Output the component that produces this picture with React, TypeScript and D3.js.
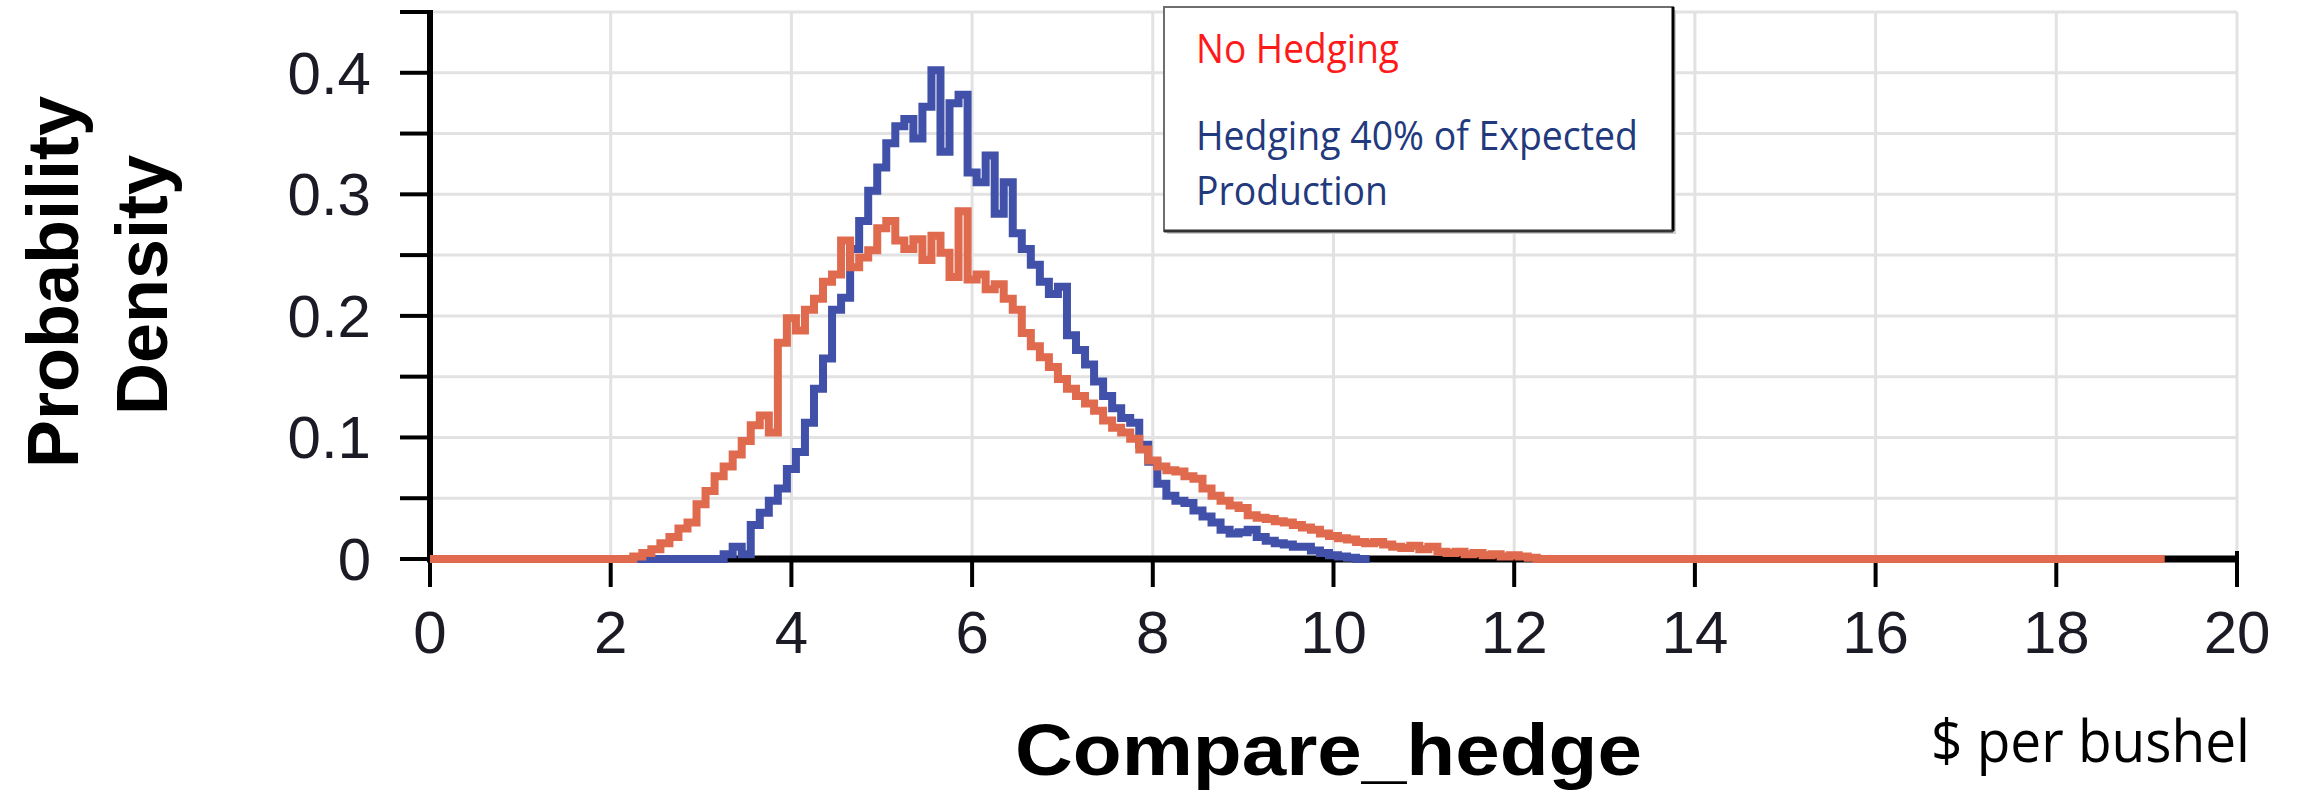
import React from "react";
import * as d3 from "d3";

// Price axis (dollars per bushel) and density axis ticks
const xTicks = [0, 2, 4, 6, 8, 10, 12, 14, 16, 18, 20];
const yLabelTicks = [0, 0.1, 0.2, 0.3, 0.4];
const yGridTicks = [0.05, 0.1, 0.15, 0.2, 0.25, 0.3, 0.35, 0.4, 0.45];
const yTickMarks = [0, 0.05, 0.1, 0.15, 0.2, 0.25, 0.3, 0.35, 0.4, 0.45];

// Density estimates on a 0.1 $/bu grid starting at 2.2
const binStart = 2.2;
const binWidth = 0.1;

const noHedging = [
  0.0, 0.002, 0.005, 0.008, 0.013, 0.018, 0.025, 0.03, 0.045, 0.056,
  0.068, 0.076, 0.086, 0.097, 0.11, 0.118, 0.104, 0.178, 0.198, 0.188,
  0.205, 0.214, 0.228, 0.234, 0.262, 0.24, 0.248, 0.254, 0.272, 0.278,
  0.262, 0.255, 0.263, 0.246, 0.266, 0.252, 0.232, 0.286, 0.23, 0.234,
  0.222, 0.226, 0.214, 0.205, 0.186, 0.175, 0.166, 0.158, 0.148, 0.14,
  0.134, 0.128, 0.122, 0.114, 0.108, 0.104, 0.099, 0.09, 0.081, 0.076,
  0.073, 0.072, 0.068, 0.066, 0.058, 0.052, 0.048, 0.044, 0.042, 0.036,
  0.034, 0.033, 0.031, 0.03, 0.028, 0.026, 0.024, 0.021, 0.019, 0.017,
  0.016, 0.014, 0.013, 0.014, 0.012, 0.01, 0.009, 0.011, 0.008, 0.01,
  0.006, 0.005, 0.006, 0.004, 0.005, 0.003, 0.004, 0.002, 0.003, 0.002,
  0.001, 0.0,
];

const hedging40 = [
  0.0, 0.0, 0.0, 0.0, 0.0, 0.0, 0.0, 0.0, 0.0, 0.0,
  0.0, 0.004, 0.01, 0.004, 0.028, 0.038, 0.048, 0.058, 0.074, 0.088,
  0.112, 0.14, 0.165, 0.205, 0.215, 0.255, 0.278, 0.303, 0.322, 0.342,
  0.356, 0.362, 0.346, 0.372, 0.402, 0.335, 0.375, 0.382, 0.318, 0.31,
  0.332, 0.284, 0.31, 0.268, 0.255, 0.242, 0.228, 0.218, 0.224, 0.184,
  0.172, 0.16, 0.146, 0.134, 0.124, 0.116, 0.112, 0.094, 0.08, 0.062,
  0.052, 0.048, 0.046, 0.04, 0.035, 0.03, 0.024, 0.021, 0.022, 0.024,
  0.018, 0.015, 0.013, 0.012, 0.01, 0.01, 0.007, 0.005, 0.003, 0.002,
  0.001, 0.0,
];

// Simulated price range covered by each series
const noHedgingRange = [0, 19.2];
const hedgingRange = [0, 10.4];

const legendItems = [
  { lines: ["No Hedging"], color: "#ff1a1a" },
  { lines: ["Hedging 40% of Expected", "Production"], color: "#23397d" },
];

const BLUE = "#4150a8";
const ORANGE = "#df6a4d";
const GRID = "#e2e2e2";
const INK = "#1b1b26";

type Pt = [number, number];

function toPoints(values: number[], range: number[]): Pt[] {
  const pts: Pt[] = [[range[0], 0]];
  values.forEach((v, i) => pts.push([binStart + i * binWidth, v]));
  pts.push([range[1], 0]);
  return pts;
}

export default function App() {
  const W = 2300;
  const H = 794;
  const x = d3.scaleLinear().domain([0, 20]).range([430, 2237]);
  const y = d3.scaleLinear().domain([0, 0.45]).range([559, 12]);

  const line = d3
    .line<Pt>()
    .x((d) => x(d[0]))
    .y((d) => y(d[1]))
    .curve(d3.curveStep);

  const orangePath = line(toPoints(noHedging, noHedgingRange)) || "";
  const bluePath = line(toPoints(hedging40, hedgingRange)) || "";

  const tickFont = "'Liberation Sans', Arial, sans-serif";
  const titleFont = "'Liberation Sans', Arial, sans-serif";
  const calFont = "'Open Sans', 'Noto Sans', sans-serif";

  const lx = 1164;
  const ly = 7;
  const lw = 509;
  const lh = 224;

  return (
    <svg
      width={W}
      height={H}
      viewBox={`0 0 ${W} ${H}`}
      style={{ position: "absolute", left: 0, top: 0, background: "#fff" }}
    >
      <rect x={0} y={0} width={W} height={H} fill="#fff" />

      {/* grid */}
      <g stroke={GRID} strokeWidth={3}>
        {xTicks.slice(1).map((t) => (
          <line key={"gx" + t} x1={x(t)} x2={x(t)} y1={y(0.45)} y2={y(0)} />
        ))}
        {yGridTicks.map((t) => (
          <line key={"gy" + t} x1={x(0)} x2={x(20)} y1={y(t)} y2={y(t)} />
        ))}
      </g>

      {/* axes */}
      <g stroke="#000">
        <line x1={x(0)} x2={x(0)} y1={y(0.45) - 2} y2={y(0) + 3} strokeWidth={6} />
        <line x1={x(0) - 3} x2={x(20) + 2} y1={y(0)} y2={y(0)} strokeWidth={7} />
        {yTickMarks.map((t) => (
          <line key={"ty" + t} x1={x(0) - 30} x2={x(0)} y1={y(t)} y2={y(t)} strokeWidth={4} />
        ))}
        {xTicks.map((t) => (
          <line key={"tx" + t} x1={x(t)} x2={x(t)} y1={y(0)} y2={y(0) + 28} strokeWidth={4} />
        ))}
        <line x1={x(20)} x2={x(20)} y1={y(0) - 8} y2={y(0)} strokeWidth={4} />
      </g>

      {/* density curves */}
      <path d={bluePath} fill="none" stroke={BLUE} strokeWidth={8} strokeLinejoin="miter" />
      <path d={orangePath} fill="none" stroke={ORANGE} strokeWidth={8} strokeLinejoin="miter" />

      {/* tick labels */}
      <g fill={INK} fontFamily={tickFont} fontSize={60}>
        {yLabelTicks.map((t) => (
          <text key={"ly" + t} x={371} y={y(t) + 21} textAnchor="end">
            {t === 0 ? "0" : d3.format(".1f")(t)}
          </text>
        ))}
        {xTicks.map((t) => (
          <text key={"lx" + t} x={x(t)} y={653} textAnchor="middle">
            {t}
          </text>
        ))}
      </g>

      {/* axis titles */}
      <g fill="#000" fontFamily={titleFont} fontWeight="bold" fontSize={72}>
        <text transform="translate(78,282) rotate(-90)" textAnchor="middle">
          Probability
        </text>
        <text transform="translate(167,285) rotate(-90)" textAnchor="middle">
          Density
        </text>
      </g>
      <text
        x={1015}
        y={775}
        fontFamily={titleFont}
        fontWeight="bold"
        fontSize={72}
        textLength={627}
        lengthAdjust="spacingAndGlyphs"
        fill="#000"
      >
        Compare_hedge
      </text>
      <text
        x={1931}
        y={762}
        fontFamily={calFont}
        fontSize={58}
        textLength={319}
        lengthAdjust="spacingAndGlyphs"
        fill="#000"
      >
        $ per bushel
      </text>

      {/* legend */}
      <rect x={lx + 3} y={ly + 3} width={lw} height={lh} fill="#cfcfcf" />
      <rect x={lx} y={ly} width={lw} height={lh} fill="#fff" stroke="#6e6e6e" strokeWidth={2} />
      <line x1={lx + lw} x2={lx + lw} y1={ly} y2={ly + lh} stroke="#000" strokeWidth={3} />
      <line x1={lx} x2={lx + lw} y1={ly + lh} y2={ly + lh} stroke="#333" strokeWidth={3} />
      <g fontFamily={calFont} fontSize={40}>
        <text x={1196} y={63} fill={legendItems[0].color} textLength={203} lengthAdjust="spacingAndGlyphs">
          {legendItems[0].lines[0]}
        </text>
        <text x={1196} y={150} fill={legendItems[1].color} textLength={442} lengthAdjust="spacingAndGlyphs">
          {legendItems[1].lines[0]}
        </text>
        <text x={1196} y={205} fill={legendItems[1].color} textLength={192} lengthAdjust="spacingAndGlyphs">
          {legendItems[1].lines[1]}
        </text>
      </g>
    </svg>
  );
}
